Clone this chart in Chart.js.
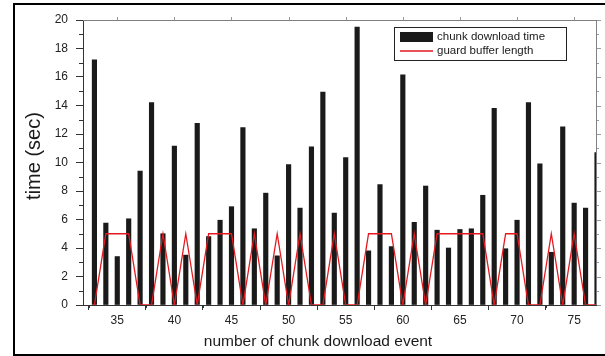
<!DOCTYPE html>
<html>
<head>
<meta charset="utf-8">
<script src="https://cdn.jsdelivr.net/npm/chart.js@4.4.1/dist/chart.umd.min.js"></script>
<style>
  html, body { margin: 0; padding: 0; background: #ffffff; }
  #wrap { width: 605px; height: 356px; position: relative; }
</style>
</head>
<body>
<div id="wrap"><canvas id="c" width="605" height="356"></canvas></div>
<script>
// ---- data ----
const events = [33,34,35,36,37,38,39,40,41,42,43,44,45,46,47,48,49,50,51,52,53,54,55,56,57,58,59,60,61,62,63,64,65,66,67,68,69,70,71,72,73,74,75,76,77];
const downloadTime = [17.2,5.75,3.4,6.05,9.4,14.2,5.0,11.15,3.5,12.75,4.8,5.95,6.9,12.45,5.35,7.85,3.45,9.85,6.8,11.1,14.95,6.45,10.35,19.5,3.8,8.45,4.1,16.15,5.8,8.35,5.25,4.0,5.3,5.35,7.7,13.8,3.95,5.95,14.2,9.9,3.7,12.5,7.15,6.8,10.7];
const guardBuffer = [0,5,5,5,0,0,5,0,5,0,5,5,5,0,5,0,5,0,5,0,0,5,0,0,5,5,5,0,5,0,5,5,5,5,5,0,5,5,0,0,5,0,5,0,0];
const seriesLabels = ["chunk download time", "guard buffer length"];
const xTicks = [35,40,45,50,55,60,65,70,75];
const yTicks = [0,2,4,6,8,10,12,14,16,18,20];
const xTitle = "number of chunk download event";
const yTitle = "time (sec)";
const xRange = [32, 77];
const yRange = [0, 20];

const FONT = "'Liberation Sans', Arial, sans-serif";

const decor = {
  id: 'decor',
  afterDraw(chart) {
    const ctx = chart.ctx;
    const a = chart.chartArea;
    const xs = chart.scales.x, ys = chart.scales.y;
    ctx.save();
    // top / right box lines
    ctx.strokeStyle = '#808080';
    ctx.lineWidth = 1;
    ctx.beginPath();
    ctx.moveTo(a.left, a.top + 0.5); ctx.lineTo(a.right, a.top + 0.5);
    ctx.moveTo(a.right - 0.5, a.top); ctx.lineTo(a.right - 0.5, a.bottom);
    ctx.stroke();
    // minor ticks
    ctx.strokeStyle = '#333';
    ctx.beginPath();
    for (let v = xRange[0] + 0.5; v < xRange[1]; v += 2.5) {
      if (Math.abs(v % 5) < 1e-6) continue;
      const px = Math.round(xs.getPixelForValue(v)) + 0.5;
      ctx.moveTo(px, a.bottom); ctx.lineTo(px, a.bottom + 3);
    }
    for (let v = 1; v < yRange[1]; v += 2) {
      const py = Math.round(ys.getPixelForValue(v)) + 0.5;
      ctx.moveTo(a.left, py); ctx.lineTo(a.left - 4, py);
    }
    ctx.stroke();
    // mirrored ticks on top and right
    ctx.strokeStyle = '#999';
    ctx.beginPath();
    for (const v of xTicks) {
      const px = Math.round(xs.getPixelForValue(v)) + 0.5;
      ctx.moveTo(px, a.top); ctx.lineTo(px, a.top - 3);
    }
    for (let v = 0; v <= 20; v += 1) {
      const py = Math.round(ys.getPixelForValue(v)) + 0.5;
      ctx.moveTo(a.right, py); ctx.lineTo(a.right + (v % 2 ? 2 : 4), py);
    }
    ctx.stroke();

    // legend
    const lx = 394, ly = 27, lw = 172, lh = 33;
    ctx.fillStyle = '#fff';
    ctx.fillRect(lx, ly, lw, lh);
    ctx.strokeStyle = '#222';
    ctx.lineWidth = 1;
    ctx.strokeRect(lx + 0.5, ly + 0.5, lw, lh);
    ctx.fillStyle = '#1a1a1a';
    ctx.fillRect(400, 32, 33, 10);
    ctx.strokeStyle = '#e3191f';
    ctx.lineWidth = 1.3;
    ctx.beginPath(); ctx.moveTo(400, 51); ctx.lineTo(433, 51); ctx.stroke();
    ctx.fillStyle = '#1a1a1a';
    ctx.font = '11.5px ' + FONT;
    ctx.textBaseline = 'middle';
    ctx.textAlign = 'left';
    ctx.fillText(seriesLabels[0], 437, 37);
    ctx.fillText(seriesLabels[1], 437, 50.5);

    // axis titles
    ctx.fillStyle = '#1a1a1a';
    ctx.font = '15.5px ' + FONT;
    ctx.textAlign = 'center';
    ctx.fillText(xTitle, 318, 342);
    ctx.save();
    ctx.translate(34, 156);
    ctx.rotate(-Math.PI / 2);
    ctx.font = '20px ' + FONT;
    ctx.fillText(yTitle, 0, 0);
    ctx.restore();

    // outer frame
    ctx.strokeStyle = '#000';
    ctx.lineWidth = 2;
    ctx.beginPath();
    ctx.moveTo(605, 4); ctx.lineTo(14, 4); ctx.lineTo(14, 355); ctx.lineTo(605, 355);
    ctx.stroke();
    ctx.restore();
  }
};

const barData = events.map((e, i) => ({ x: e, y: downloadTime[i] }));
const lineData = events.map((e, i) => ({ x: e, y: guardBuffer[i] }));

new Chart(document.getElementById('c'), {
  type: 'bar',
  data: {
    datasets: [
      {
        type: 'line',
        label: seriesLabels[1],
        data: lineData,
        borderColor: '#e3191f',
        borderWidth: 1.3,
        pointRadius: 0,
        tension: 0,
        fill: false,
        order: 0
      },
      {
        type: 'bar',
        label: seriesLabels[0],
        data: barData,
        backgroundColor: '#1a1a1a',
        barThickness: 4.5,
        order: 1
      }
    ]
  },
  options: {
    responsive: false,
    animation: false,
    layout: { padding: { top: 20, right: 8, left: 0, bottom: 0 } },
    plugins: { legend: { display: false }, tooltip: { enabled: false } },
    scales: {
      x: {
        type: 'linear',
        min: xRange[0], max: xRange[1],
        offset: false,
        grid: { display: true, drawOnChartArea: false, drawTicks: true, tickLength: 5, color: '#333' },
        border: { display: true, color: '#333', width: 1 },
        ticks: { color: '#222', padding: 3, maxRotation: 0, font: { family: FONT, size: 12 } },
        afterBuildTicks(s) { s.ticks = xTicks.map(v => ({ value: v })); },
        afterFit(s) { s.height = 51; }
      },
      y: {
        min: yRange[0], max: yRange[1],
        grid: { display: true, drawOnChartArea: false, drawTicks: true, tickLength: 7, color: '#333' },
        border: { display: true, color: '#333', width: 1 },
        ticks: { color: '#222', padding: 8, font: { family: FONT, size: 12 } },
        afterBuildTicks(s) { s.ticks = yTicks.map(v => ({ value: v })); },
        afterFit(s) { s.width = 83; }
      }
    }
  },
  plugins: [decor]
});
</script>
</body>
</html>
